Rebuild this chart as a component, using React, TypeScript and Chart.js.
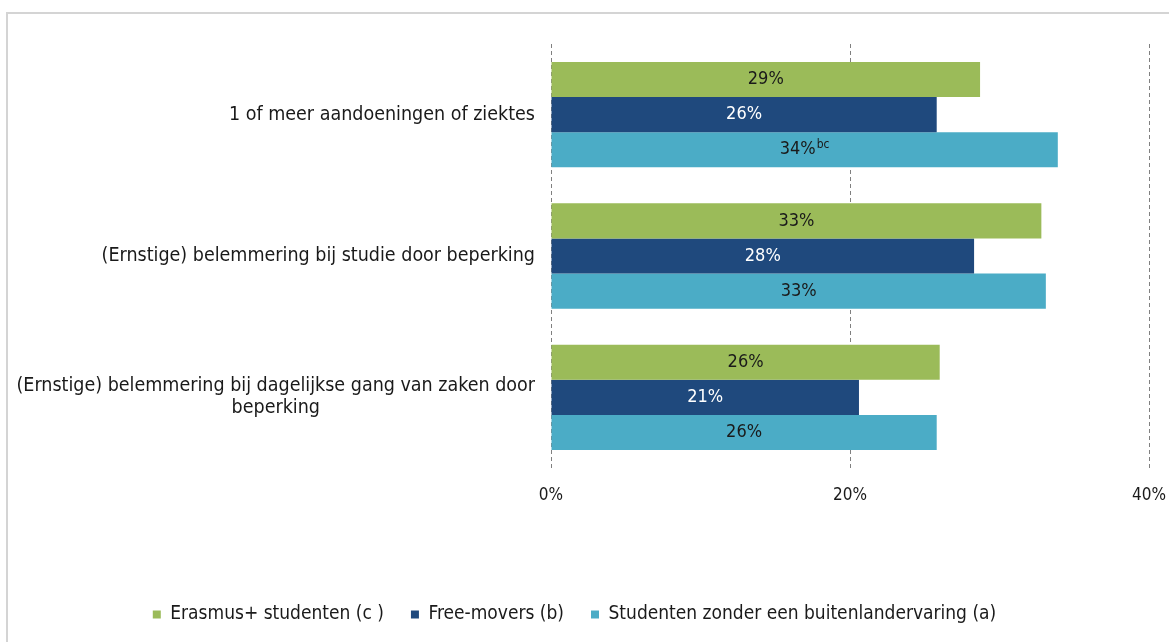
import React, { useEffect, useRef } from "react";
import { Chart, registerables } from "chart.js";

Chart.register(...registerables);

// ---- data ----
const categories: string[][] = [
  ["1 of meer aandoeningen of ziektes"],
  ["(Ernstige) belemmering bij studie door beperking"],
  ["(Ernstige) belemmering bij dagelijkse gang van zaken door", "beperking"],
];
const seriesNames = [
  "Erasmus+ studenten (c )",
  "Free-movers (b)",
  "Studenten zonder een buitenlandervaring (a)",
];
const erasmus = [28.7, 32.8, 26.0];
const freeMovers = [25.8, 28.3, 20.6];
const zonder = [33.9, 33.1, 25.8];
const erasmusSup = ["", "", ""];
const freeMoversSup = ["", "", ""];
const zonderSup = ["bc", "", ""];
const xTickValues = [0, 20, 40];

const seriesValues = [erasmus, freeMovers, zonder];
const seriesSups = [erasmusSup, freeMoversSup, zonderSup];
const seriesColors = ["#9BBB59", "#1F497D", "#4BACC6"];
const labelColors = ["#1a1a1a", "#ffffff", "#1a1a1a"];

const FONT = '"DejaVu Sans Condensed", "DejaVu Sans", sans-serif';
const TEXT = "#1a1a1a";

const labelPlugin = {
  id: "customLabels",
  afterDatasetsDraw(chart: any) {
    const ctx = chart.ctx;
    ctx.save();
    chart.data.datasets.forEach((ds: any, d: number) => {
      const meta = chart.getDatasetMeta(d);
      meta.data.forEach((bar: any, i: number) => {
        const v = ds.data[i];
        const text = Math.round(v) + "%";
        const sup = seriesSups[d][i];
        ctx.font = `18px ${FONT}`;
        const w = ctx.measureText(text).width;
        ctx.font = `12px ${FONT}`;
        const sw = sup ? ctx.measureText(sup).width + 1 : 0;
        const cx = (bar.base + bar.x) / 2;
        const start = cx - (w + sw) / 2;
        ctx.fillStyle = labelColors[d];
        ctx.textAlign = "left";
        ctx.textBaseline = "middle";
        ctx.font = `18px ${FONT}`;
        ctx.fillText(text, start, bar.y);
        if (sup) {
          ctx.font = `12px ${FONT}`;
          ctx.fillText(sup, start + w + 1, bar.y - 5);
        }
      });
    });
    ctx.restore();
  },
  afterDraw(chart: any) {
    const ctx = chart.ctx;
    const y = chart.scales.y;
    ctx.save();
    ctx.font = `19.5px ${FONT}`;
    ctx.fillStyle = TEXT;
    ctx.textAlign = "center";
    ctx.textBaseline = "middle";
    const right = 535;
    const lineH = 22;
    categories.forEach((lines, i) => {
      const maxW = Math.max(...lines.map((l) => ctx.measureText(l).width));
      const cx = right - maxW / 2;
      const cy = y.getPixelForValue(i);
      const start = cy - ((lines.length - 1) * lineH) / 2;
      lines.forEach((l, k) => ctx.fillText(l, cx, start + k * lineH));
    });
    ctx.restore();
  },
};

export default function App() {
  const ref = useRef<HTMLCanvasElement | null>(null);

  useEffect(() => {
    if (!ref.current) return;
    const chart = new Chart(ref.current, {
      type: "bar",
      data: {
        labels: categories.map((c) => c.join(" ")),
        datasets: seriesNames.map((name, d) => ({
          label: name,
          data: seriesValues[d],
          backgroundColor: seriesColors[d],
          borderWidth: 0,
          barPercentage: 1,
          categoryPercentage: 0.745,
        })),
      },
      options: {
        indexAxis: "y",
        animation: false,
        responsive: false,
        layout: { padding: { top: 44, right: 20, left: 0, bottom: 8 } },
        scales: {
          x: {
            min: 0,
            max: 40,
            afterBuildTicks: (scale: any) => {
              scale.ticks = xTickValues.map((v) => ({ value: v }));
            },
            afterFit: (scale: any) => {
              scale.height = 110;
              scale.paddingLeft = 0;
              scale.paddingRight = 0;
            },
            ticks: {
              callback: (v: any) => v + "%",
              font: { family: FONT, size: 17 },
              color: TEXT,
              padding: 17,
              maxRotation: 0,
            },
            grid: { color: "#808080", lineWidth: 1, drawTicks: false },
            border: { display: false, dash: [4, 3] },
          },
          y: {
            afterFit: (scale: any) => {
              scale.width = 551;
            },
            ticks: { display: false },
            grid: { display: false },
            border: { display: false },
          },
        },
        plugins: {
          legend: {
            position: "bottom",
            labels: {
              boxWidth: 8,
              boxHeight: 8,
              padding: 27,
              color: TEXT,
              font: { family: FONT, size: 19 },
            },
          },
          tooltip: { enabled: false },
        },
      },
      plugins: [labelPlugin],
    } as any);
    return () => chart.destroy();
  }, []);

  return (
    <div
      style={{
        position: "fixed",
        left: 0,
        top: 0,
        width: 1169,
        height: 642,
        overflow: "hidden",
        background: "#ffffff",
      }}
    >
      <div
        style={{
          position: "absolute",
          left: 6,
          top: 12,
          width: 1300,
          height: 800,
          border: "2px solid #d4d4d4",
          boxSizing: "border-box",
        }}
      />
      <canvas
        ref={ref}
        width={1169}
        height={642}
        style={{ position: "absolute", left: 0, top: 0 }}
      />
    </div>
  );
}
